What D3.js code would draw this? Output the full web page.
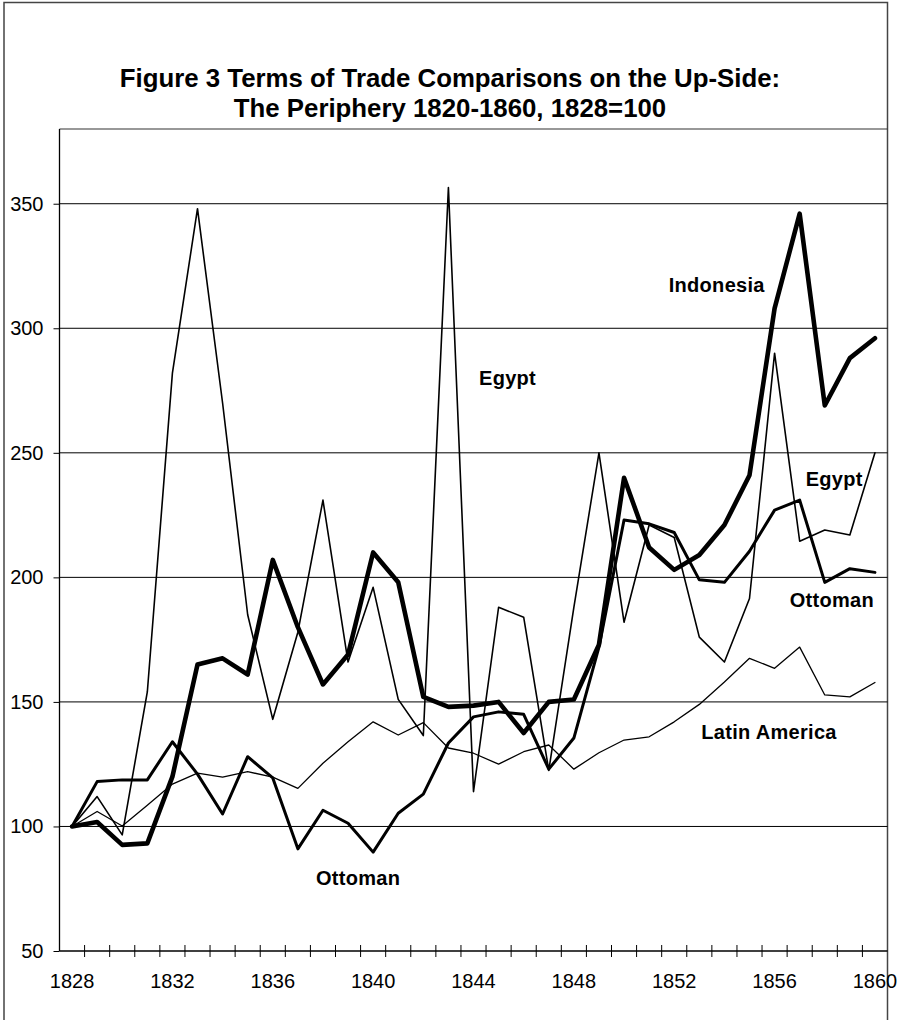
<!DOCTYPE html>
<html>
<head>
<meta charset="utf-8">
<script src="https://cdn.jsdelivr.net/npm/d3@7"></script>
<style>
  html, body { margin: 0; padding: 0; background: #fff; }
  svg { display: block; font-family: "Liberation Sans", Arial, sans-serif; }
</style>
</head>
<body>
<svg id="chart" width="898" height="1020"></svg>
<script>
// ---- data ----
const years = [1828,1829,1830,1831,1832,1833,1834,1835,1836,1837,1838,1839,1840,1841,1842,1843,1844,
               1845,1846,1847,1848,1849,1850,1851,1852,1853,1854,1855,1856,1857,1858,1859,1860];
const indonesia = [100,101.8,92.6,93.2,120,165,167.5,161,207,180,157,169,210,198,152,148,148.5,
                   150,137.5,150,151,173,240,212,203,209,221,241,308,346,269,288,296];
const ottoman = [100,118,118.7,118.7,134,121,105,128,119.5,91,106.5,101.3,89.7,105.3,113,133.5,144,
                 146,145,123,135.5,172,223,221.5,218,199,198,210.5,227,231,198,203.5,202];
const egypt = [100,112,96.6,154,282,348,270,185,143,178,231,166,196,151,136.5,356.5,114,
               188,184,122.5,188,250,182,221,216,176,166,191.5,290,214.5,219,217,250];
const latinAmerica = [100,106,100.2,108.5,117,121.4,119.8,122,119.8,115.3,125.4,134,142,136.7,141.7,131.5,129.4,
                      125,130,132.7,123,129.6,134.7,136,142,149,158,167.5,163.5,172,152.8,152,157.8];
const yTicks = [50,100,150,200,250,300,350];
const xLabelYears = [1828,1832,1836,1840,1844,1848,1852,1856,1860];
const titleLines = ["Figure 3 Terms of Trade Comparisons on the Up-Side:", "The Periphery 1820-1860, 1828=100"];
const seriesNames = ["Latin America","Egypt","Ottoman","Indonesia"];
// label anchors in data units (year, value)
const labelTexts = ["Indonesia","Egypt","Egypt","Ottoman","Latin America","Ottoman"];
const labelYears = [1851.78,1844.22,1857.24,1856.6,1853.08,1837.72];
const labelValues = [314.4,277.3,236.5,188.3,135,76.5];

// ---- layout ----
const svg = d3.select("#chart");
const plotLeft = 59.5, plotRight = 887.5, plotTop = 129, plotBottom = 951;

svg.append("rect").attr("x",0).attr("y",0).attr("width",898).attr("height",1020).attr("fill","#fff");
// outer chart border
svg.append("rect").attr("x",4).attr("y",2.5).attr("width",883.5).attr("height",1030)
   .attr("fill","none").attr("stroke","#444").attr("stroke-width",1.5);

const x = d3.scaleBand().domain(years).range([plotLeft, plotRight]).padding(0);
const cx = d => x(d) + x.bandwidth()/2;
const y = d3.scaleLinear().domain([50, 380]).range([plotBottom, plotTop]);

// title
const title = svg.append("text").attr("text-anchor","middle").attr("font-weight","bold")
  .attr("font-size",25.8).attr("fill","#000");
titleLines.forEach((t,i) => title.append("tspan").attr("x",450).attr("y",87 + i*30).text(t));

// plot area border (top)
svg.append("line").attr("x1",plotLeft).attr("x2",plotRight).attr("y1",plotTop).attr("y2",plotTop)
   .attr("stroke","#333").attr("stroke-width",1.2);

// gridlines
svg.append("g").selectAll("line").data(yTicks.filter(v => v > 50)).join("line")
  .attr("x1",plotLeft).attr("x2",plotRight).attr("y1",d=>y(d)).attr("y2",d=>y(d))
  .attr("stroke","#000").attr("stroke-width",1);

// y axis
const yAxis = svg.append("g").attr("transform",`translate(${plotLeft},0)`)
  .call(d3.axisLeft(y).tickValues(yTicks).tickSize(6).tickPadding(10));
yAxis.select(".domain").attr("d",`M0,${plotTop}V${plotBottom}`).attr("stroke","#000").attr("stroke-width",1.3);
yAxis.selectAll("text").attr("font-size",20).attr("font-family","Liberation Sans, Arial, sans-serif").attr("fill","#000");
yAxis.selectAll(".tick line").attr("stroke","#000");

// x axis line
svg.append("line").attr("x1",plotLeft).attr("x2",plotRight).attr("y1",plotBottom).attr("y2",plotBottom)
  .attr("stroke","#000").attr("stroke-width",1.3);
// tick marks at category boundaries
svg.append("g").selectAll("line").data(years.slice(1)).join("line")
  .attr("x1",d=>x(d)).attr("x2",d=>x(d)).attr("y1",plotBottom-6).attr("y2",plotBottom+6)
  .attr("stroke","#000").attr("stroke-width",1);
// x labels
svg.append("g").selectAll("text").data(xLabelYears).join("text")
  .attr("x",d=>cx(d)).attr("y",988).attr("text-anchor","middle")
  .attr("font-size",20).attr("fill","#000").text(d=>d);

// series
const line = d3.line().x((d,i)=>cx(years[i])).y(d=>y(d)).curve(d3.curveLinear);
const seriesData = [latinAmerica, egypt, ottoman, indonesia];
const widths = [1.3, 1.6, 3, 4.6];
svg.append("g").selectAll("path").data(seriesData).join("path")
  .attr("d", d=>line(d)).attr("fill","none").attr("stroke","#000")
  .attr("stroke-width",(d,i)=>widths[i]).attr("stroke-linejoin","round").attr("stroke-linecap","round")
  .attr("data-name",(d,i)=>seriesNames[i]);

// labels
const xl = d3.scaleLinear().domain([1828,1860]).range([cx(1828), cx(1860)]);
svg.append("g").selectAll("text").data(labelTexts).join("text")
  .attr("x",(d,i)=>xl(labelYears[i])).attr("y",(d,i)=>y(labelValues[i]))
  .attr("font-size",20).attr("font-weight","bold").attr("letter-spacing",0.3).attr("fill","#000")
  .text(d=>d);
</script>
</body>
</html>
